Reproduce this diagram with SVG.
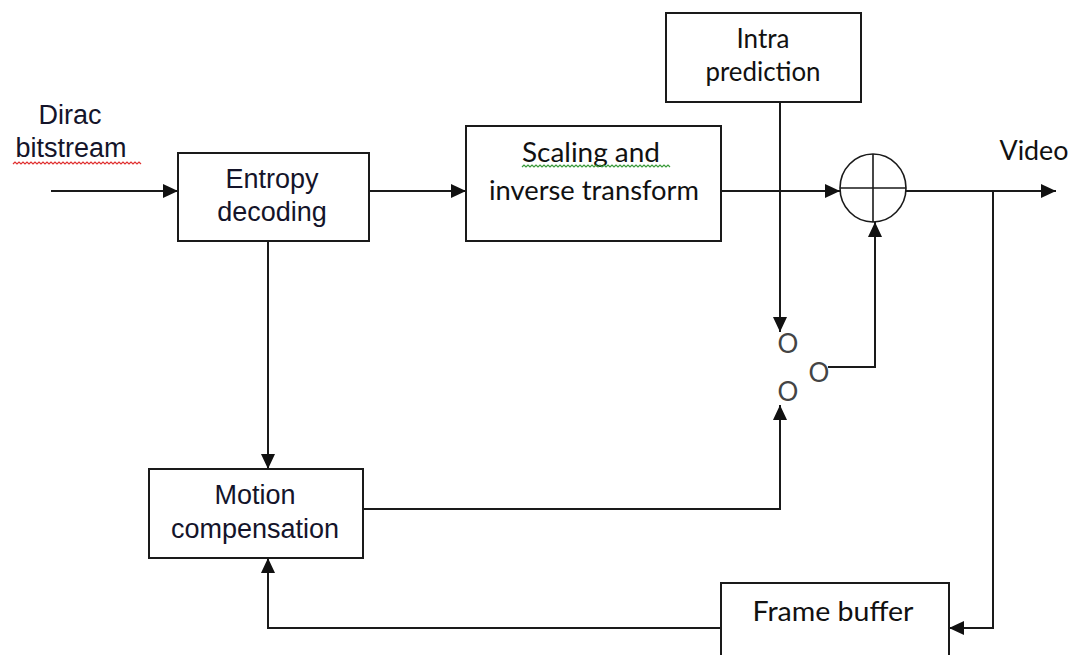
<svg xmlns="http://www.w3.org/2000/svg" width="1073" height="655" viewBox="0 0 1073 655">
  <defs>
    <marker id="arrow" viewBox="0 0 15 14" refX="15" refY="7" markerWidth="15" markerHeight="14" markerUnits="userSpaceOnUse" orient="auto">
      <path d="M0,0 L15,7 L0,14 Z" fill="#111"/>
    </marker>
    <style>
      .box { fill: #fff; stroke: #1a1a1a; stroke-width: 2; }
      .wire { fill: none; stroke: #1a1a1a; stroke-width: 2; }
      .arial { font-family: "Liberation Sans", Arial, sans-serif; font-size: 27px; fill: #14142a; text-anchor: middle; }
      .cal { font-family: Lato, "Open Sans", sans-serif; font-size: 26px; fill: #111; text-anchor: middle; }
      .contact { font-family: Lato, "Open Sans", sans-serif; font-size: 26px; fill: #444; text-anchor: middle; }
      .squiggle { fill: none; stroke-width: 1.2; }
    </style>
  </defs>

  <rect width="1073" height="655" fill="#fff"/>

  <!-- input label -->
  <g id="input-label">
    <text class="arial" x="70" y="124">Dirac</text>
    <text class="arial" x="71" y="157">bitstream</text>
    <path class="squiggle" stroke="#e03030" d="M13,164 l2,-2 l2,2 l2,-2 l2,2 l2,-2 l2,2 l2,-2 l2,2 l2,-2 l2,2 l2,-2 l2,2 l2,-2 l2,2 l2,-2 l2,2 l2,-2 l2,2 l2,-2 l2,2 l2,-2 l2,2 l2,-2 l2,2 l2,-2 l2,2 l2,-2 l2,2 l2,-2 l2,2 l2,-2 l2,2 l2,-2 l2,2 l2,-2 l2,2 l2,-2 l2,2 l2,-2 l2,2 l2,-2 l2,2 l2,-2 l2,2 l2,-2 l2,2 l2,-2 l2,2 l2,-2 l2,2 l2,-2 l2,2 l2,-2 l2,2 l2,-2 l2,2 l2,-2 l2,2 l2,-2 l2,2 l2,-2 l2,2 l2,-2 l2,2"/>
  </g>

  <!-- connectors -->
  <g id="connectors">
    <path class="wire" d="M51,191 H178" marker-end="url(#arrow)"/>
    <path class="wire" d="M369,191 H466" marker-end="url(#arrow)"/>
    <path class="wire" d="M721,191 H840" marker-end="url(#arrow)"/>
    <path class="wire" d="M780,102 V332" marker-end="url(#arrow)"/>
    <path class="wire" d="M906,191 H1056" marker-end="url(#arrow)"/>
    <path class="wire" d="M993,191 V628 H949" marker-end="url(#arrow)"/>
    <path class="wire" d="M721,628 H268 V558" marker-end="url(#arrow)"/>
    <path class="wire" d="M268,241 V469" marker-end="url(#arrow)"/>
    <path class="wire" d="M363,509 H780 V405" marker-end="url(#arrow)"/>
    <path class="wire" d="M828,367 H875 V222" marker-end="url(#arrow)"/>
  </g>

  <g id="entropy-decoding">
    <rect class="box" x="178" y="153" width="191" height="88"/>
    <text class="arial" x="272" y="188">Entropy</text>
    <text class="arial" x="272" y="221">decoding</text>
  </g>

  <g id="scaling-inverse-transform">
    <rect class="box" x="466" y="126" width="255" height="115"/>
    <text class="cal" x="591" y="162" textLength="138" lengthAdjust="spacingAndGlyphs">Scaling and</text>
    <path class="squiggle" stroke="#3a9a3a" d="M522,167 l2,-2 l2,2 l2,-2 l2,2 l2,-2 l2,2 l2,-2 l2,2 l2,-2 l2,2 l2,-2 l2,2 l2,-2 l2,2 l2,-2 l2,2 l2,-2 l2,2 l2,-2 l2,2 l2,-2 l2,2 l2,-2 l2,2 l2,-2 l2,2 l2,-2 l2,2 l2,-2 l2,2 l2,-2 l2,2 l2,-2 l2,2 l2,-2 l2,2 l2,-2 l2,2 l2,-2 l2,2 l2,-2 l2,2 l2,-2 l2,2 l2,-2 l2,2 l2,-2 l2,2 l2,-2 l2,2 l2,-2 l2,2 l2,-2 l2,2 l2,-2 l2,2 l2,-2 l2,2 l2,-2 l2,2 l2,-2 l2,2 l2,-2 l2,2 l2,-2 l2,2 l2,-2 l2,2 l2,-2 l2,2 l2,-2 l2,2 l2,-2 l2,2"/>
    <text class="cal" x="594" y="200" textLength="210" lengthAdjust="spacingAndGlyphs">inverse transform</text>
  </g>

  <g id="intra-prediction">
    <rect class="box" x="666" y="13" width="195" height="89"/>
    <text class="cal" x="763" y="48">Intra</text>
    <text class="cal" x="763" y="81" textLength="115" lengthAdjust="spacingAndGlyphs">prediction</text>
  </g>

  <g id="adder">
    <ellipse cx="873" cy="188" rx="33" ry="34" fill="#fff" stroke="#1a1a1a" stroke-width="1.6"/>
    <path d="M840,188 H906 M873,154 V222" fill="none" stroke="#1a1a1a" stroke-width="1.6"/>
  </g>

  <g id="video-output">
    <text class="cal" x="1034" y="160" textLength="69" lengthAdjust="spacingAndGlyphs">Video</text>
  </g>

  <g id="switch">
    <text class="contact" x="788" y="353">O</text>
    <text class="contact" x="819" y="382">O</text>
    <text class="contact" x="788" y="401">O</text>
  </g>

  <g id="motion-compensation">
    <rect class="box" x="149" y="469" width="214" height="89"/>
    <text class="arial" x="255" y="504">Motion</text>
    <text class="arial" x="255" y="538">compensation</text>
  </g>

  <g id="frame-buffer">
    <rect class="box" x="721" y="583" width="228" height="90"/>
    <text class="cal" x="833" y="621" textLength="161" lengthAdjust="spacingAndGlyphs">Frame buffer</text>
  </g>
</svg>
